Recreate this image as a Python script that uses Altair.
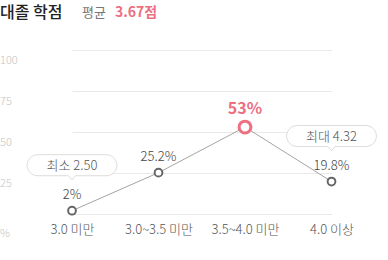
import altair as alt
import pandas as pd

categories = ["3.0 미만", "3.0~3.5 미만", "3.5~4.0 미만", "4.0 이상"]
values = [2.0, 25.2, 53.0, 19.8]
value_labels = ["2%", "25.2%", "53%", "19.8%"]
highlight = [False, False, True, False]
bubble_labels = ["최소 2.50", "", "", "최대 4.32"]

ytick_values = [100, 75, 50, 25]
ytick_labels = ["100", "75", "50", "25"]
yunit_value = [0]
yunit_label = ["%"]

title_main = "대졸 학점"
title_avg = "평균"
title_avg_value = "3.67점"

FONT = "Noto Sans CJK KR"
PINK = "#ec6f82"

df = pd.DataFrame({
    "cat": categories,
    "val": values,
    "lab": value_labels,
    "hl": highlight,
    "bub": bubble_labels,
})
ticks_df = pd.DataFrame({"v": ytick_values, "t": ytick_labels})
unit_df = pd.DataFrame({"v": yunit_value, "t": yunit_label})

xs = alt.X("cat:N", sort=categories,
           scale=alt.Scale(type="point", range=[72, 331.5], padding=0),
           axis=alt.Axis(title=None, domain=False, ticks=False, grid=False,
                         labelAngle=0, labelFont=FONT, labelFontSize=13,
                         labelFontWeight=300,
                         labelColor="#555", labelPadding=9))
ys = alt.Y("val:Q", scale=alt.Scale(domain=[0, 100], nice=False, zero=True),
           axis=alt.Axis(title=None, domain=False, ticks=False, labels=False,
                         values=[0, 25, 50, 75, 100], grid=True,
                         gridColor="#e9e9e9", gridWidth=1))

base = alt.Chart(df)

line = base.mark_line(color="#a5a5a5", strokeWidth=1).encode(x=xs, y=ys)

bubble_path = ("M -0.78 -1.273 L 0.78 -1.273 A 0.24 0.24 0 0 1 1.02 -1.034 "
               "A 0.24 0.24 0 0 1 0.78 -0.795 L 0.08 -0.795 L 0 -0.70 "
               "L -0.08 -0.795 L -0.78 -0.795 A 0.24 0.24 0 0 1 -1.02 -1.034 "
               "A 0.24 0.24 0 0 1 -0.78 -1.273 Z")

xe = alt.X("cat:N", sort=categories)

bubbles = base.transform_filter("datum.bub != ''").mark_point(
    shape=bubble_path, size=7744, filled=True, fill="white", opacity=1,
    stroke="#dcdcdc", strokeWidth=1
).encode(x=xe, y="val:Q")

bubble_text = base.transform_filter("datum.bub != ''").mark_text(
    font=FONT, fontSize=13, fontWeight=300, color="#555", dy=-45,
    baseline="middle"
).encode(x=xe, y="val:Q", text="bub:N")

pts = base.transform_filter("!datum.hl").mark_point(
    shape="circle", size=60, filled=True, fill="white", opacity=1,
    stroke="#666", strokeWidth=2
).encode(x=xe, y="val:Q")

hl_pt = base.transform_filter("datum.hl").mark_point(
    shape="circle", size=140, filled=True, fill="white", opacity=1,
    stroke=PINK, strokeWidth=3
).encode(x=xe, y="val:Q")

labs = base.transform_filter("!datum.hl").mark_text(
    font=FONT, fontSize=13, fontWeight=300, color="#444", dy=-16,
    baseline="middle"
).encode(x=xe, y="val:Q", text="lab:N")

hl_lab = base.transform_filter("datum.hl").mark_text(
    font=FONT, fontSize=16, fontWeight="bold", color=PINK, dy=-18,
    baseline="middle"
).encode(x=xe, y="val:Q", text="lab:N")

ytxt = alt.Chart(ticks_df).mark_text(
    font=FONT, fontSize=11, fontWeight=300, color="#c4c4c4", align="left",
    baseline="middle", dy=11
).encode(x=alt.value(0), y=alt.Y("v:Q"), text="t:N")

utxt = alt.Chart(unit_df).mark_text(
    font=FONT, fontSize=11, fontWeight=300, color="#c4c4c4", align="left",
    baseline="middle", dy=20
).encode(x=alt.value(0), y=alt.Y("v:Q"), text="t:N")

t1 = alt.Chart(pd.DataFrame({"t": [title_main]})).mark_text(
    font=FONT, fontSize=16, fontWeight=500, color="#222", align="left",
    baseline="middle"
).encode(x=alt.value(0), y=alt.value(-37), text="t:N")

t2 = alt.Chart(pd.DataFrame({"t": [title_avg]})).mark_text(
    font=FONT, fontSize=13, color="#777", align="left", baseline="middle"
).encode(x=alt.value(82), y=alt.value(-37), text="t:N")

t3 = alt.Chart(pd.DataFrame({"t": [title_avg_value]})).mark_text(
    font=FONT, fontSize=14, fontWeight="bold", color=PINK, align="left",
    baseline="middle"
).encode(x=alt.value(115), y=alt.value(-37), text="t:N")

chart = alt.layer(
    line, bubbles, bubble_text, pts, hl_pt, labs, hl_lab, ytxt, utxt, t1, t2, t3
).resolve_scale(y="shared").properties(
    width=388, height=164,
    autosize=alt.AutoSizeParams(type="none"),
    padding={"left": 0, "right": 0, "top": 50, "bottom": 46},
    background="white",
).configure_view(stroke=None)

chart.save("out.html", embed_options={"renderer": "svg", "actions": False})
